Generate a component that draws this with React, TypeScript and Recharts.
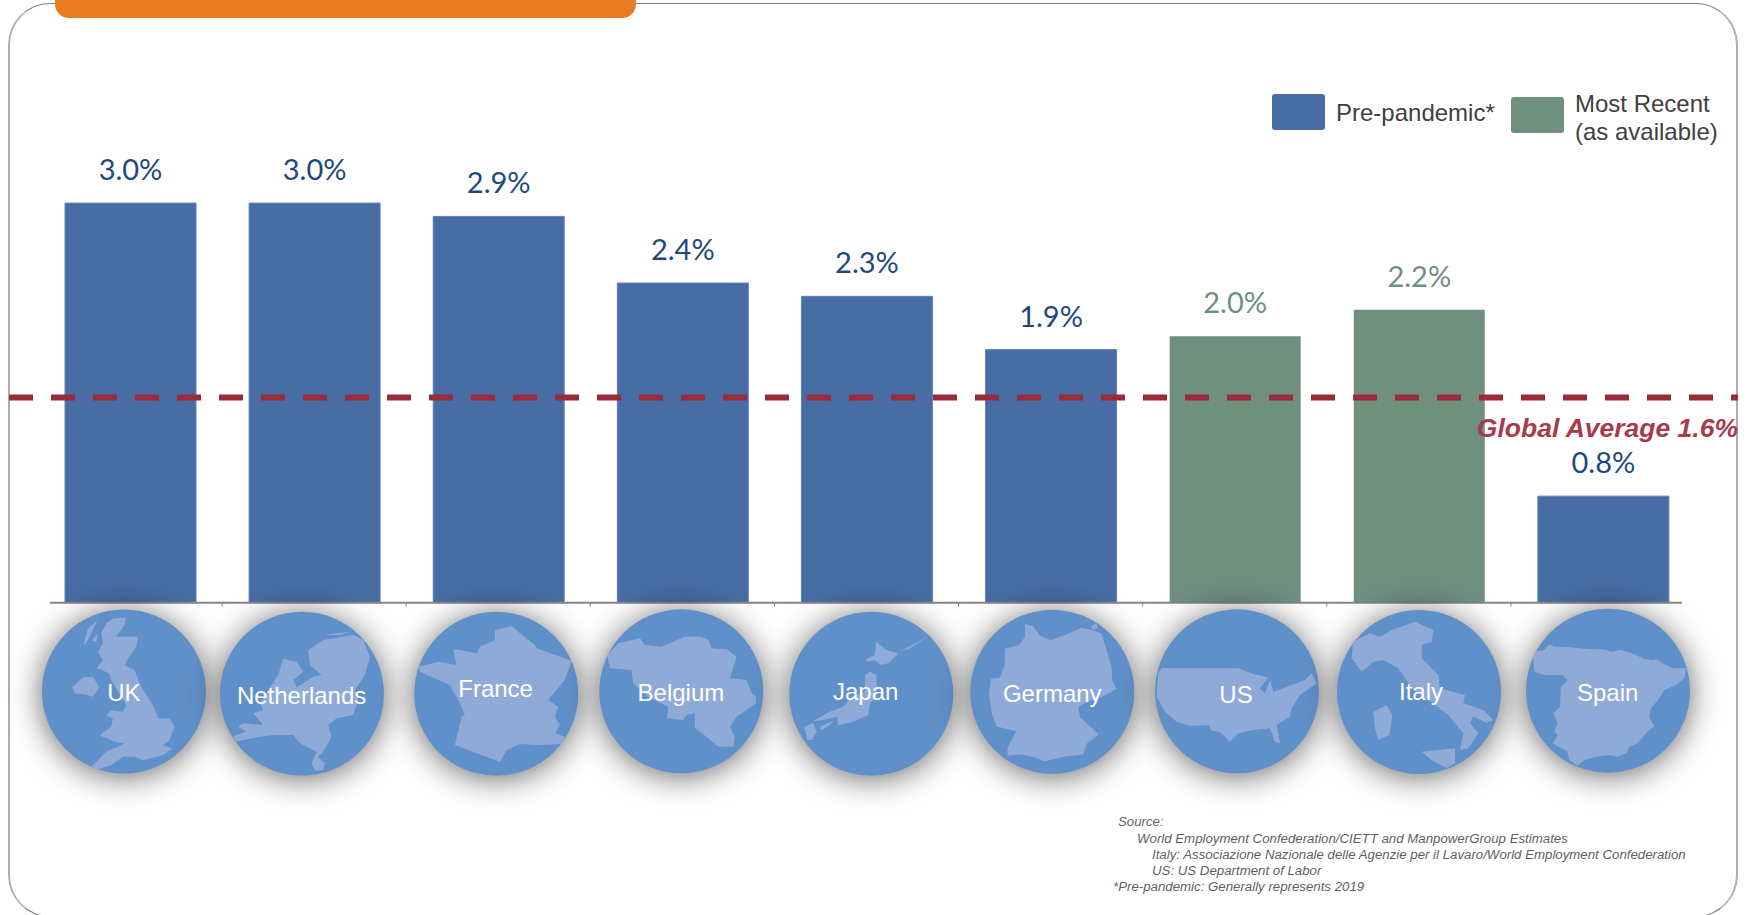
import { BarChart, Bar, XAxis, YAxis, LabelList, Legend, ReferenceLine } from "recharts";

const paises = ["UK", "Netherlands", "France", "Belgium", "Japan", "Germany", "US", "Italy", "Spain"];
const prePandemic = [3.0, 3.0, 2.9, 2.4, 2.3, 1.9, null, null, 0.8];
const mostRecent = [null, null, null, null, null, null, 2.0, 2.2, null];
const globalLineLevel = 1.54;
const globalLabel = "Global Average 1.6%";
const fuente = [
  "Source:",
  "World Employment Confederation/CIETT and ManpowerGroup Estimates",
  "Italy: Associazione Nazionale delle Agenzie per il Lavaro/World Employment Confederation",
  "US: US Department of Labor",
  "*Pre-pandemic: Generally represents 2019",
];

// the circles under the axis are not quite lined up with the bars in the original
const circleDx = [-6.15, -12.25, -2.05, -1.15, 4.75, 1.65, 2.25, 0.15, 5.05];
const circleCy = [691.5, 693.7, 693.7, 691.3, 693.7, 691.8, 691.3, 692, 690.7];
const textDx = [-6.15, -12.55, -2.65, -1.45, -0.85, 1.65, 1.25, 2.15, 4.75];
const textCy = [692.7, 695, 688.7, 692.7, 691.7, 693.3, 694, 691.7, 692.3];
const fuenteX = [1118, 1137, 1152, 1152, 1113];
const fuenteY = [821.5, 838.5, 854.5, 871, 886.5];

// rough outlines, traced at 3x so each circle box is 492 wide
const siluetas: Record<string, { left: number; top: number; d: string }> = {
  UK: {
    left: 22,
    top: 28,
    d: "M215 70L235 55L275 52L270 75L245 110L310 110L305 140L280 175L270 195L300 210L320 260L355 315L372 355L405 355L420 380L405 420L385 435L412 445L385 465L325 480L300 470L265 470L230 495L180 510L170 500L215 455L270 430L240 425L195 405L230 380L235 355L215 345L230 330L265 335L275 315L260 290L230 240L225 222L205 210L185 205L205 180L190 155L205 130L200 100ZM112 262L145 232L175 230L195 262L175 290L150 282L122 280ZM148 130L160 85L188 60L170 100L150 135ZM172 120L190 100L185 125Z",
  },
  Netherlands: {
    left: 570,
    top: 35,
    d: "M835 150L880 120L970 105L1000 120L1020 170L1005 225L975 270L985 300L970 345L920 355L895 375L905 410L880 455L865 470L885 490L880 510L855 512L845 490L860 455L810 430L790 405L730 405L690 410L615 425L612 408L650 395L625 380L640 370L700 375L670 340L700 330L690 310L745 225L760 175L775 180L800 185L820 215L790 240L800 262L850 230L875 225L840 195ZM880 105L960 95L930 105Z",
  },
  France: {
    left: 28,
    top: 35,
    d: "M270 90L320 78L345 100L390 135L395 145L500 182L480 240L430 300L460 320L450 350L465 375L450 400L480 410L470 432L400 435L345 432L305 450L285 485L215 460L150 435L170 350L180 345L165 310L135 255L45 215L42 200L100 185L155 195L145 148L165 150L215 160L225 140L270 120Z",
  },
  Belgium: {
    left: 28,
    top: 28,
    d: "M52 165L85 130L150 115L165 135L215 140L285 110L330 110L355 120L365 145L410 148L440 170L420 235L470 240L485 280L498 290L498 310L440 350L420 380L435 410L430 440L385 440L350 410L315 385L315 340L290 345L280 360L232 355L235 320L175 290L130 250L125 210L60 205Z",
  },
  Japan: {
    left: 598,
    top: 35,
    d: "M858 125L890 150L925 160L895 190L870 195L855 180L835 185L825 180L855 165ZM840 215L860 225L860 290L840 310L835 345L790 365L745 375L740 350L700 360L665 365L720 335L760 320L785 290L825 275L825 225ZM643 380L670 368L680 395L665 420L652 420ZM690 380L730 362L720 375L695 390ZM930 155L1015 108L960 145Z",
  },
  Germany: {
    left: 16,
    top: 28,
    d: "M180 70L205 78L225 105L258 120L280 110L320 95L350 82L385 90L410 100L425 150L440 200L442 240L455 265L420 285L355 310L340 320L345 350L402 402L365 430L355 462L300 468L240 482L210 470L170 462L128 465L128 440L155 392L95 378L80 335L72 280L78 235L105 232L120 190L120 145L160 135L180 110ZM378 78L395 68L398 82L385 88Z",
  },
  US: {
    left: 45,
    top: 28,
    d: "M65 205L295 205L340 222L385 232L360 265L375 280L390 240L400 275L430 265L495 240L515 220L530 250L480 285L455 325L450 350L410 375L420 430L405 425L390 385L340 390L295 400L270 425L240 395L215 392L205 375L150 378L110 365L75 335L50 290L55 220Z",
  },
  Italy: {
    left: 591,
    top: 30,
    d: "M640 125L690 100L720 110L755 90L825 65L880 90L875 125L845 135L845 175L895 225L900 265L975 285L970 310L1030 330L1060 360L1040 368L1000 350L990 370L1015 400L985 445L960 450L970 400L925 345L880 310L820 270L775 205L730 180L700 185L665 215L635 175ZM700 335L740 315L757 345L748 405L715 420L705 385ZM845 455L945 445L945 490L920 505L875 480Z",
  },
  Spain: {
    left: 20,
    top: 26,
    d: "M40 155L75 150L90 133L105 140L150 142L210 148L250 148L280 155L300 150L325 155L350 165L375 178L400 180L410 178L430 190L460 205L500 205L495 235L470 255L435 270L420 295L395 325L390 350L405 378L380 400L355 430L330 440L320 460L295 470L270 465L230 470L195 480L175 498L150 480L145 455L100 430L115 405L105 395L115 370L102 340L122 320L125 260L145 240L130 225L75 225L45 215Z",
  },
};

const data = paises.map((pais, i) => ({ pais, prePandemic: prePandemic[i], mostRecent: mostRecent[i] }));

const AZUL = "#476da4";
const VERDE = "#6f8f7f";
const ROJO = "#9b2b3b";
const STEP = 184.1;
const SANS = "'Liberation Sans', Arial, sans-serif";

const pct = (v: unknown) => (v == null ? "" : `${Number(v).toFixed(1)}%`);

function CountryTick({ x, y, index, payload }: any) {
  const nombre = payload.value as string;
  const cx = x + circleDx[index];
  const cy = circleCy[index];
  const s = siluetas[nombre];
  const clip = `clip-${index}`;
  return (
    <g>
      {index < paises.length - 1 && (
        <line x1={x + STEP / 2} x2={x + STEP / 2} y1={y} y2={y + 4} stroke="#868686" strokeWidth={1} />
      )}
      <circle cx={cx} cy={cy} r={82} fill="#6090c9" style={{ filter: "drop-shadow(0 3px 16px rgba(0,0,0,0.6))" }} />
      <clipPath id={clip}>
        <circle cx={cx} cy={cy} r={82} />
      </clipPath>
      <g clipPath={`url(#${clip})`}>
        <path
          d={s.d}
          fill="#90aad8"
          transform={`translate(${cx - 82} ${cy - 82}) scale(${1 / 3}) translate(${-s.left} ${-s.top})`}
        />
      </g>
      <text
        x={x + textDx[index]}
        y={textCy[index]}
        textAnchor="middle"
        dominantBaseline="central"
        fill="#fff"
        fontFamily={SANS}
        fontSize={24}
      >
        {nombre}
      </text>
    </g>
  );
}

function Leyenda() {
  const txt: any = { position: "absolute", fontFamily: SANS, fontSize: 24, lineHeight: "28px", color: "#404040", whiteSpace: "nowrap" };
  const box: any = { position: "absolute", width: 53, height: 36, borderRadius: 3 };
  return (
    <div style={{ position: "absolute", left: 0, top: 0, width: 0, height: 0 }}>
      <div style={{ ...box, left: 1272, top: 94, background: AZUL }} />
      <div style={{ ...txt, left: 1336, top: 99 }}>Pre-pandemic*</div>
      <div style={{ ...box, left: 1511, top: 97, background: VERDE }} />
      <div style={{ ...txt, left: 1575, top: 90 }}>
        Most Recent
        <br />
        (as available)
      </div>
    </div>
  );
}

function AxisBase({ y1 }: any) {
  return <line x1={50} x2={1682} y1={y1} y2={y1} stroke="#868686" strokeWidth={2} />;
}

export default function App() {
  return (
    <div style={{ position: "absolute", left: 0, top: 0, width: 1750, height: 915, overflow: "hidden", background: "#fff" }}>
      <div
        style={{
          position: "absolute",
          left: 8,
          top: 3,
          width: 1730,
          height: 914,
          boxSizing: "border-box",
          borderRadius: 42,
          borderLeft: "2px solid #adadb3",
          borderRight: "2px solid #adadb3",
          borderTop: "1px solid #7f7f7f",
          borderBottom: "1px solid #7f7f7f",
        }}
      />
      <div
        style={{
          position: "absolute",
          left: 55,
          top: 0,
          width: 581,
          height: 18,
          background: "#e97c22",
          borderRadius: "0 0 14px 14px",
        }}
      />
      <div style={{ position: "absolute", left: 0, top: 0 }}>
        <BarChart width={1750} height={915} data={data} margin={{ top: 136.5, right: 12, bottom: 0, left: 9 }}>
          <XAxis
            dataKey="pais"
            height={312.3}
            axisLine={false}
            tickLine={false}
            tickMargin={0}
            tickSize={0}
            interval={0}
            padding={{ left: 29, right: 43 }}
            tick={CountryTick}
          />
          <YAxis hide domain={[0, 3.5]} />
          <Legend content={Leyenda} wrapperStyle={{ position: "absolute", width: 0, height: 0, left: 0, top: 0 }} />
          <Bar dataKey="prePandemic" name="Pre-pandemic*" stackId="a" fill={AZUL} stroke="#5f83b5" strokeWidth={1} barSize={131} isAnimationActive={false}>
            <LabelList dataKey="prePandemic" position="top" offset={23} formatter={pct} fill="#1f497d" fontFamily="Lato" fontSize={29} />
          </Bar>
          <Bar dataKey="mostRecent" name="Most Recent (as available)" stackId="a" fill={VERDE} barSize={131} isAnimationActive={false}>
            <LabelList dataKey="mostRecent" position="top" offset={23} formatter={pct} fill={VERDE} fontFamily="Lato" fontSize={29} />
          </Bar>
          <ReferenceLine y={0} shape={AxisBase} />
          <ReferenceLine
            y={globalLineLevel}
            stroke={ROJO}
            strokeWidth={6}
            strokeDasharray="24 18"
            label={{
              value: globalLabel,
              position: "insideBottomRight",
              dy: 39,
              offset: 0,
              fill: "#a83a4a",
              fontFamily: SANS,
              fontSize: 26.5,
              fontWeight: 700,
              fontStyle: "italic",
            }}
          />
        </BarChart>
      </div>
      {fuente.map((linea, i) => (
        <div
          key={linea}
          style={{
            position: "absolute",
            left: fuenteX[i],
            top: fuenteY[i] - 8,
            fontFamily: SANS,
            fontStyle: "italic",
            fontSize: 13.25,
            lineHeight: "16px",
            color: "#5f5f5f",
            whiteSpace: "nowrap",
          }}
        >
          {linea}
        </div>
      ))}
    </div>
  );
}
